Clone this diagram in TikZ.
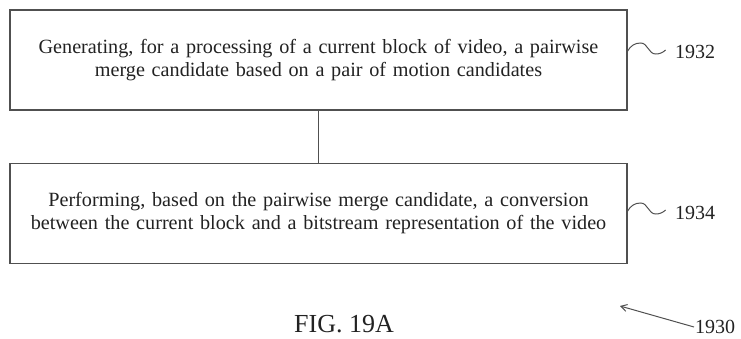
\documentclass[tikz,border=0pt]{standalone}
\usepackage{fontspec}
\setmainfont{Liberation Serif}
\usepackage{tikz}
\usetikzlibrary{positioning, arrows.meta}
\definecolor{boxline}{HTML}{505050}
\definecolor{figtext}{HTML}{222222}

\tikzset{
  stepbox/.style={draw=boxline, line width=1.3pt, minimum width=617pt, minimum height=100pt,
                  text width=600pt, align=center, font=\fontsize{20.2}{23}\selectfont, text=figtext},
  refnum/.style={font=\fontsize{20}{22}\selectfont, text=figtext, inner sep=1pt},
  squiggle/.style={draw=boxline, line width=1pt}
}

\begin{document}
\begin{tikzpicture}[x=1pt, y=-1pt]
    \useasboundingbox (0,0) rectangle (741,339);
    \node[stepbox] (gen) at (318.5,60) {Generating, for a processing of a current block of video, a pairwise\\
      merge candidate based on a pair of motion candidates};
    \node[stepbox, below=52pt of gen] (conv) {Performing, based on the pairwise merge candidate, a conversion\\
      between the current block and a bitstream representation of the video};
    \draw[draw=boxline, line width=1.3pt] (gen.south) -- (conv.north);

    \node[refnum] (r1932) at (695,52) {1932};
    \node[refnum] (r1934) at (695,213) {1934};
    \draw[squiggle] (gen.east |- 0,51) to[out=60, in=180] ++(13,-8) to[out=0, in=180] ++(15,11)
      to[out=0, in=220] ++(10,-4);
    \draw[squiggle] (conv.east |- 0,211) to[out=60, in=180] ++(13,-8) to[out=0, in=180] ++(15,11)
      to[out=0, in=220] ++(10,-4);

    \node[font=\fontsize{26}{28}\selectfont, text=figtext, inner sep=1pt] (fig) at (344,324) {FIG. 19A};
    \node[refnum, anchor=west] (r1930) at (694,327) {1930};
    \coordinate (tip1930) at (620,306);
    \draw[boxline, line width=1pt, -{Straight Barb[length=6pt, width=7pt]}] (r1930.west) -- (tip1930);
  \end{tikzpicture}
\end{document}
